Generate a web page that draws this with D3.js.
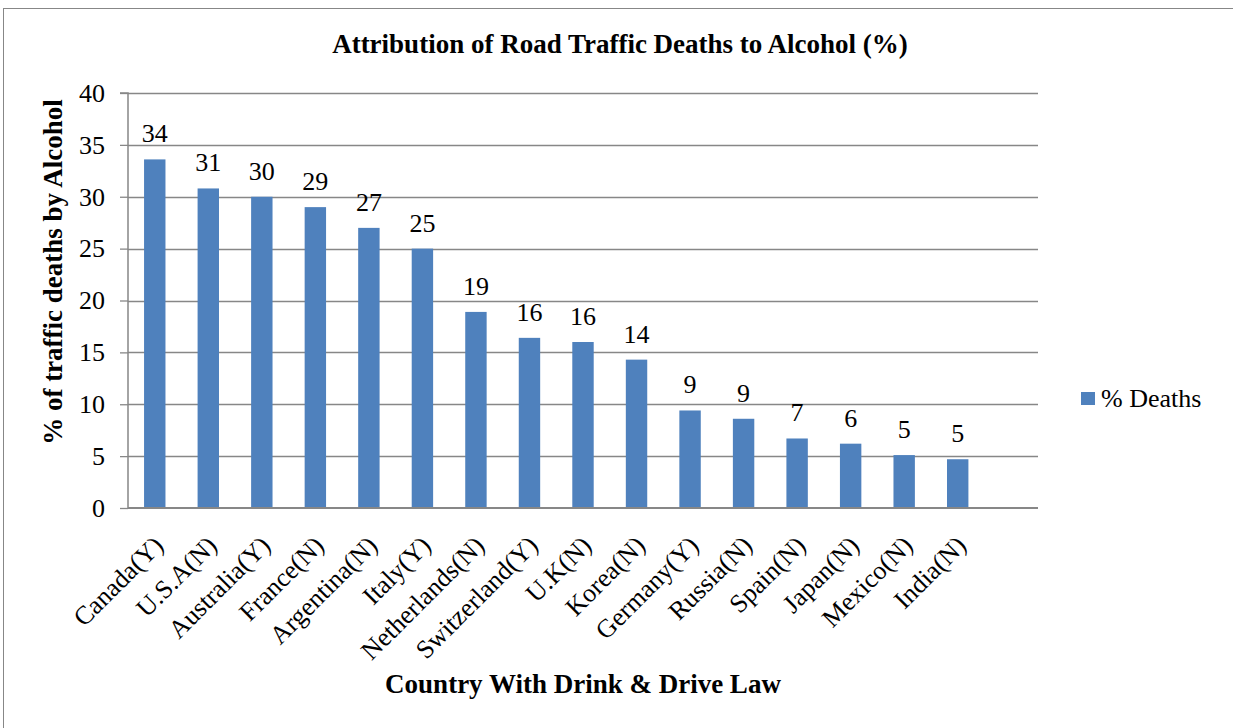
<!DOCTYPE html>
<html><head><meta charset="utf-8">
<script src="https://cdn.jsdelivr.net/npm/d3@7"></script>
<style>body{margin:0;background:#fff}svg{display:block}text{font-family:"Liberation Serif","Times New Roman",serif;fill:#000}</style>
</head><body>
<script>
const categories = ["Canada(Y)","U.S.A(N)","Australia(Y)","France(N)","Argentina(N)","Italy(Y)","Netherlands(N)","Switzerland(Y)","U.K(N)","Korea(N)","Germany(Y)","Russia(N)","Spain(N)","Japan(N)","Mexico(N)","India(N)"];
const deaths = [33.6,30.8,30.0,29.0,27.0,25.0,18.9,16.4,16.0,14.3,9.4,8.6,6.7,6.2,5.1,4.7];
const yTicks = [0,5,10,15,20,25,30,35,40];
const seriesName = "% Deaths";
const title = "Attribution of Road Traffic Deaths to Alcohol (%)";
const xTitle = "Country With Drink & Drive Law";
const yTitle = "% of traffic deaths by Alcohol";

const W = 1233, H = 728;
const FS = 26, FSB = 27;
const svg = d3.select("body").append("svg").attr("width", W).attr("height", H);
svg.append("rect").attr("x",3.5).attr("y",8.5).attr("width",W+10).attr("height",H+10)
  .attr("fill","none").attr("stroke","#878787").attr("stroke-width",1);

const pLeft = 128, pRight = 1038, pTop = 93, pBottom = 508;
const step = (pRight - pLeft) / 17;
const x = d3.scaleBand().domain(categories).range([pLeft, pLeft + step*16]).paddingInner(0.6).paddingOuter(0.3);
const y = d3.scaleLinear().domain([0,40]).range([pBottom, pTop]);

// gridlines
svg.append("g").selectAll("line").data(yTicks.filter(d=>d>0)).join("line")
  .attr("x1", pLeft).attr("x2", pRight).attr("y1", d=>Math.round(y(d))+0.5).attr("y2", d=>Math.round(y(d))+0.5)
  .attr("stroke","#878787").attr("stroke-width",1.3);

// y axis
const yAxis = d3.axisLeft(y).tickValues(yTicks).tickSize(8).tickPadding(15).tickFormat(d3.format("d"));
const gy = svg.append("g").attr("transform",`translate(${pLeft},0)`).call(yAxis);
gy.select(".domain").attr("stroke","#878787").attr("stroke-width",1.5).attr("d",`M-8,${pTop}H0V${pBottom}`);
gy.selectAll(".tick line").attr("stroke","#878787").attr("stroke-width",1.3);
gy.selectAll(".tick text").attr("font-size",FS).attr("fill","#000");

// bars
svg.append("g").selectAll("rect").data(categories).join("rect")
  .attr("x", d=>x(d)).attr("width", x.bandwidth())
  .attr("y", (d,i)=>y(deaths[i])).attr("height",(d,i)=>pBottom - y(deaths[i]))
  .attr("fill","#4F81BD");

// x axis
const xAxis = d3.axisBottom(x).tickSize(0).tickPadding(0);
const gx = svg.append("g").attr("transform",`translate(0,${pBottom})`).call(xAxis);
gx.select(".domain").attr("stroke","#878787").attr("stroke-width",1.8).attr("d",`M${pLeft},0H${pRight}`);
gx.selectAll(".tick text").attr("font-size",FS).attr("fill","#000")
  .attr("text-anchor","end").attr("y",0).attr("dy",0).attr("transform","translate(10,39) rotate(-45)");

// value labels
svg.append("g").selectAll("text").data(categories).join("text")
  .attr("x", d=>x(d)+x.bandwidth()/2).attr("y",(d,i)=>y(deaths[i])-17)
  .attr("text-anchor","middle").attr("font-size",FS).text((d,i)=>d3.format(".0f")(deaths[i]));

// titles
svg.append("text").attr("x",620).attr("y",53).attr("text-anchor","middle").attr("font-size",FSB).attr("font-weight","bold").text(title);
svg.append("text").attr("x",583).attr("y",693).attr("text-anchor","middle").attr("font-size",FSB).attr("font-weight","bold").text(xTitle);
svg.append("text").attr("transform",`translate(62,272) rotate(-90)`).attr("text-anchor","middle").attr("font-size",FSB).attr("font-weight","bold").text(yTitle);

// legend
const lg = svg.append("g").attr("transform","translate(1081,392)");
lg.append("rect").attr("width",14).attr("height",13).attr("fill","#4F81BD");
lg.append("text").attr("x",20).attr("y",15).attr("font-size",FS).text(seriesName);
</script>
</body></html>
